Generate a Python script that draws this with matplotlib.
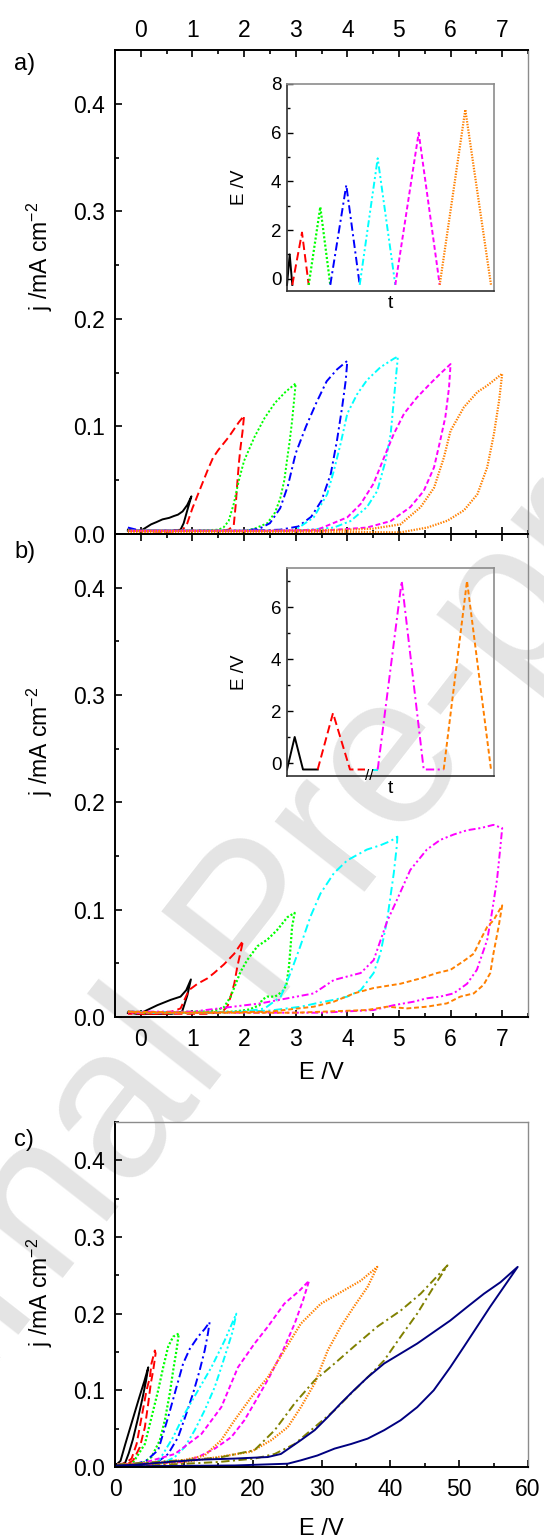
import matplotlib
matplotlib.use('Agg')
import matplotlib.pyplot as plt
from matplotlib.ticker import MultipleLocator, FormatStrFormatter

plt.rcParams['font.family'] = ['Liberation Sans', 'DejaVu Sans']
plt.rcParams['mathtext.fontset'] = 'custom'
plt.rcParams['mathtext.rm'] = 'Liberation Sans'
plt.rcParams['lines.scale_dashes'] = False

# ---------------- Panel a data (E /V, j /mA cm-2) ----------------
a_black_E = [-0.25, -0.1, 0, 0.1, 0.2, 0.3, 0.42, 0.55, 0.64, 0.72, 0.81, 0.9, 0.98,
             0.9, 0.83, 0.77, 0.6, 0.3, 0, -0.25]
a_black_j = [0.004, 0.003, 0.003, 0.006, 0.009, 0.011, 0.0136, 0.015, 0.0167, 0.018, 0.021, 0.027, 0.035,
             0.022, 0.010, 0.004, 0.003, 0.003, 0.003, 0.003]
a_red_E = [-0.25, 0.5, 0.8, 0.9, 1.0, 1.1, 1.2, 1.3, 1.4, 1.5, 1.6, 1.7, 1.8, 1.9, 2.0,
           1.97, 1.93, 1.9, 1.87, 1.84, 1.8, 1.7, 1.5, 1.0, 0.5, 0, -0.25]
a_red_j = [0.003, 0.002, 0.003, 0.010, 0.024, 0.036, 0.048, 0.060, 0.071, 0.078, 0.084, 0.090, 0.097, 0.104, 0.110,
           0.095, 0.080, 0.066, 0.048, 0.028, 0.008, 0.004, 0.003, 0.003, 0.003, 0.003, 0.003]
a_green_E = [-0.25, 1.0, 1.5, 1.6, 1.7, 1.8, 1.9, 2.0, 2.2, 2.4, 2.6, 2.8, 3.0,
             2.97, 2.93, 2.88, 2.83, 2.78, 2.7, 2.6, 2.45, 2.2, 2.0, 1.5, 0, -0.25]
a_green_j = [0.003, 0.003, 0.004, 0.006, 0.012, 0.028, 0.050, 0.068, 0.090, 0.108, 0.122, 0.132, 0.140,
             0.125, 0.105, 0.085, 0.068, 0.050, 0.033, 0.020, 0.010, 0.005, 0.003, 0.003, 0.003, 0.003]
a_blue_E = [-0.25, 0, 1.0, 2.0, 2.3, 2.5, 2.7, 2.85, 3.0, 3.2, 3.4, 3.6, 3.8, 4.0,
            3.97, 3.9, 3.8, 3.68, 3.5, 3.3, 3.05, 2.7, 2.0, 0, -0.25]
a_blue_j = [0.006, 0.003, 0.003, 0.003, 0.005, 0.010, 0.024, 0.045, 0.075, 0.100, 0.122, 0.142, 0.153, 0.161,
            0.143, 0.118, 0.087, 0.056, 0.031, 0.016, 0.007, 0.004, 0.003, 0.003, 0.003]
a_cyan_E = [-0.25, 1.0, 2.0, 2.97, 3.35, 3.61, 3.74, 3.87, 4.0, 4.19, 4.38, 4.64, 4.9, 4.98,
            4.96, 4.9, 4.84, 4.74, 4.58, 4.38, 4.06, 3.74, 3.0, 2.0, 0, -0.25]
a_cyan_j = [0.003, 0.003, 0.003, 0.003, 0.0155, 0.037, 0.059, 0.084, 0.112, 0.130, 0.143, 0.155, 0.163, 0.165,
            0.155, 0.124, 0.093, 0.068, 0.040, 0.025, 0.012, 0.006, 0.003, 0.003, 0.003, 0.003]
a_magenta_E = [-0.25, 1.0, 2.5, 3.42, 4.0, 4.26, 4.51, 4.71, 4.9, 5.1, 5.35, 5.61, 5.8, 6.0,
               5.97, 5.9, 5.8, 5.68, 5.48, 5.22, 4.84, 4.38, 3.5, 2.0, 0, -0.25]
a_magenta_j = [0.003, 0.003, 0.003, 0.004, 0.0155, 0.028, 0.047, 0.071, 0.093, 0.112, 0.127, 0.140, 0.149, 0.158,
               0.136, 0.109, 0.087, 0.062, 0.040, 0.025, 0.012, 0.006, 0.003, 0.003, 0.003, 0.003]
a_orange_E = [-0.25, 1.0, 2.5, 4.0, 4.5, 5.03, 5.42, 5.68, 5.87, 6.0, 6.26, 6.52, 6.71, 7.0,
              6.94, 6.84, 6.71, 6.52, 6.26, 5.94, 5.55, 5.03, 4.0, 2.0, 0, -0.25]
a_orange_j = [0.003, 0.003, 0.003, 0.004, 0.005, 0.009, 0.025, 0.043, 0.071, 0.096, 0.118, 0.132, 0.138, 0.149,
              0.124, 0.093, 0.062, 0.037, 0.022, 0.0124, 0.006, 0.0015, 0.002, 0.002, 0.002, 0.002]

# ---------------- Panel b data ----------------
b_black_E = [-0.25, 0, 0.06, 0.32, 0.58, 0.77, 0.88, 0.97, 0.9, 0.8, 0.6, 0.3, 0, -0.25]
b_black_j = [0.004, 0.003, 0.005, 0.011, 0.016, 0.019, 0.025, 0.035, 0.020, 0.005, 0.003, 0.003, 0.003, 0.004]
b_red_E = [-0.25, 0.3, 0.6, 0.77, 0.93, 1.1, 1.29, 1.42, 1.61, 1.81, 1.98,
           1.93, 1.87, 1.81, 1.74, 1.68, 1.58, 1.3, 1.0, 0.5, -0.25]
b_red_j = [0.004, 0.003, 0.005, 0.008, 0.025, 0.031, 0.036, 0.041, 0.049, 0.059, 0.071,
           0.060, 0.047, 0.031, 0.019, 0.010, 0.005, 0.003, 0.003, 0.003, 0.003]
b_green_E = [-0.25, 0.5, 1.0, 1.3, 1.5, 1.61, 1.74, 1.84, 1.93, 2.06, 2.26, 2.45, 2.64, 2.84, 2.98,
             2.93, 2.9, 2.87, 2.82, 2.75, 2.6, 2.45, 2.35, 2.3, 2.1, 1.8, 1.0, 0, -0.25]
b_green_j = [0.005, 0.004, 0.005, 0.005, 0.007, 0.009, 0.019, 0.031, 0.042, 0.053, 0.066, 0.072, 0.081, 0.093, 0.097,
             0.084, 0.065, 0.047, 0.030, 0.024, 0.019, 0.019, 0.016, 0.011, 0.007, 0.005, 0.004, 0.004, 0.005]
b_cyan_E = [-0.25, 1.0, 2.0, 2.4, 2.71, 2.9, 3.09, 3.29, 3.48, 3.74, 4.0, 4.19, 4.38, 4.64, 4.84, 4.97,
            4.96, 4.9, 4.77, 4.64, 4.51, 4.26, 4.0, 3.74, 3.42, 3.1, 2.5, 1.5, 0, -0.25]
b_cyan_j = [0.005, 0.004, 0.005, 0.008, 0.019, 0.041, 0.066, 0.094, 0.115, 0.134, 0.146, 0.151, 0.156, 0.160, 0.164, 0.168,
            0.160, 0.134, 0.090, 0.059, 0.041, 0.025, 0.019, 0.016, 0.013, 0.0096, 0.006, 0.004, 0.004, 0.005]
b_magenta_E = [-0.25, 1.0, 2.32, 2.84, 3.35, 3.74, 4.26, 4.51, 4.77, 4.96, 5.22, 5.54, 5.8, 6.06, 6.32, 6.58, 6.83, 7.0,
               6.96, 6.9, 6.8, 6.71, 6.51, 6.32, 6.06, 5.8, 5.54, 5.29, 4.9, 4.51, 3.5, 2.0, 0, -0.25]
b_magenta_j = [0.005, 0.005, 0.0127, 0.0174, 0.022, 0.0345, 0.041, 0.053, 0.089, 0.109, 0.137, 0.156, 0.165, 0.170, 0.174, 0.176, 0.179, 0.176,
               0.156, 0.128, 0.097, 0.072, 0.044, 0.031, 0.022, 0.019, 0.0174, 0.0143, 0.011, 0.0065, 0.004, 0.004, 0.004, 0.004]
b_orange_E = [-0.25, 1.0, 2.5, 3.35, 3.74, 4.13, 4.51, 5.03, 5.42, 5.74, 6.0, 6.25, 6.45, 6.58, 6.71, 6.83, 7.0,
              6.93, 6.83, 6.77, 6.64, 6.45, 6.19, 5.93, 5.54, 5.16, 4.77, 4.38, 3.0, 1.5, 0, -0.25]
b_orange_j = [0.005, 0.004, 0.005, 0.0096, 0.0143, 0.022, 0.027, 0.031, 0.036, 0.041, 0.044, 0.052, 0.059, 0.072, 0.084, 0.090, 0.104,
              0.084, 0.059, 0.041, 0.030, 0.022, 0.019, 0.0127, 0.0096, 0.008, 0.0096, 0.0065, 0.004, 0.004, 0.004, 0.005]

# ---------------- Panel c data ----------------
c_black_E = [0.2, 0.8, 1.5, 2.5, 3.5, 4.3, 4.83, 4.5, 4.0, 3.3, 2.6, 2.0, 1.5, 1.0, 0.2]
c_black_j = [0.003, 0.008, 0.030, 0.060, 0.090, 0.113, 0.130, 0.112, 0.090, 0.062, 0.036, 0.018, 0.006, 0.003, 0.003]
c_red_E = [0.3, 1.5, 2.41, 3.14, 3.86, 4.58, 5.07, 5.3, 5.79,
           5.9, 5.55, 5.2, 4.83, 4.34, 3.62, 2.65, 1.7, 0.3]
c_red_j = [0.003, 0.005, 0.011, 0.030, 0.065, 0.100, 0.117, 0.135, 0.152,
           0.148, 0.126, 0.109, 0.083, 0.052, 0.026, 0.0087, 0.003, 0.003]
c_green_E = [0.3, 2.5, 4.34, 5.31, 6.27, 7.0, 7.72, 8.45, 9.27,
             8.93, 8.45, 7.96, 7.24, 6.52, 5.31, 3.86, 1.5, 0.3]
c_green_j = [0.003, 0.004, 0.030, 0.065, 0.100, 0.130, 0.157, 0.170, 0.174,
             0.152, 0.126, 0.096, 0.061, 0.035, 0.013, 0.004, 0.003, 0.003]
c_blue_E = [0.3, 3.0, 4.5, 6.27, 7.72, 8.93, 9.9, 10.86, 12.07, 13.03, 13.75,
            13.5, 13.03, 12.3, 11.34, 10.38, 9.17, 7.72, 5.8, 2.5, 0.3]
c_blue_j = [0.003, 0.004, 0.008, 0.022, 0.065, 0.104, 0.135, 0.154, 0.170, 0.180, 0.189,
            0.174, 0.152, 0.126, 0.096, 0.070, 0.039, 0.017, 0.004, 0.003, 0.003]
c_cyan_E = [0.3, 3.0, 6.27, 8.45, 10.14, 12.07, 14.0, 15.93, 17.62,
            17.13, 16.4, 15.44, 14.48, 13.03, 11.58, 10.14, 8.69, 6.76, 3.0, 0.3]
c_cyan_j = [0.003, 0.004, 0.0065, 0.039, 0.070, 0.100, 0.130, 0.165, 0.200,
            0.178, 0.157, 0.130, 0.104, 0.074, 0.048, 0.026, 0.013, 0.004, 0.003, 0.003]
c_magenta_E = [0.3, 4.0, 8.69, 12.55, 15.44, 17.86, 20.27, 22.2, 24.6, 26.8, 28.2,
               27.3, 26.1, 24.4, 22.4, 20.75, 18.8, 16.9, 14.5, 12.07, 9.65, 4.0, 0.3]
c_magenta_j = [0.003, 0.005, 0.017, 0.043, 0.078, 0.130, 0.161, 0.183, 0.213, 0.230, 0.243,
               0.217, 0.187, 0.152, 0.117, 0.091, 0.061, 0.039, 0.024, 0.013, 0.0065, 0.003, 0.003]
c_orange_E = [0.3, 5.0, 10.0, 13.03, 15.44, 17.37, 19.79, 22.2, 24.6, 27.0, 29.9, 32.8, 35.7, 38.1,
              36.7, 34.7, 32.8, 30.9, 29.0, 27.0, 25.1, 22.7, 19.8, 15.0, 10.1, 4.0, 0.3]
c_orange_j = [0.003, 0.005, 0.009, 0.015, 0.035, 0.061, 0.091, 0.117, 0.152, 0.187, 0.213, 0.228, 0.243, 0.261,
              0.235, 0.209, 0.183, 0.152, 0.109, 0.078, 0.052, 0.035, 0.020, 0.013, 0.0065, 0.003, 0.003]
c_olive_E = [0.3, 5.0, 10.0, 15.0, 20.27, 23.2, 26.1, 29.0, 31.9, 34.7, 38.1, 41.5, 44.4, 48.3,
             46.3, 43.9, 41.5, 39.1, 36.7, 34.3, 31.9, 29.0, 26.1, 23.2, 20.3, 15.0, 5.3, 0.3]
c_olive_j = [0.003, 0.006, 0.009, 0.012, 0.022, 0.048, 0.083, 0.113, 0.135, 0.157, 0.183, 0.204, 0.226, 0.263,
             0.235, 0.200, 0.170, 0.139, 0.117, 0.096, 0.074, 0.052, 0.030, 0.017, 0.011, 0.0065, 0.002, 0.002]
c_navy_E = [0.3, 3.0, 7.72, 12.5, 17.4, 22.2, 24.1, 27.0, 29.0, 30.9, 32.8, 34.7, 36.7, 39.1, 41.5, 43.9,
            46.3, 48.7, 51.2, 53.6, 56.0, 58.5,
            56.5, 54.5, 52.6, 50.7, 48.7, 46.3, 43.9, 41.5, 39.1, 36.7, 34.3, 31.9, 29.4, 27.0, 25.1, 17.4, 2.9, 0.3]
c_navy_j = [0.002, 0.003, 0.0065, 0.0096, 0.011, 0.013, 0.017, 0.035, 0.048, 0.065, 0.083, 0.100, 0.117, 0.135, 0.148, 0.161,
            0.176, 0.191, 0.209, 0.226, 0.241, 0.261,
            0.235, 0.209, 0.183, 0.157, 0.130, 0.100, 0.078, 0.061, 0.048, 0.037, 0.030, 0.024, 0.015, 0.0087, 0.0043, 0.002, 0.001, 0.001]

# ---------------- Inset data (t arbitrary, E /V) ----------------
ia_black_t, ia_black_E = [0, 2.7, 5.3], [-0.25, 1.0, -0.25]
ia_red_t, ia_red_E = [5.3, 15, 21.7], [-0.25, 1.9, -0.25]
ia_green_t, ia_green_E = [21.7, 33.3, 43.3], [-0.25, 2.95, -0.25]
ia_blue_t, ia_blue_E = [43.3, 59.3, 72.7], [-0.25, 3.85, -0.25]
ia_cyan_t, ia_cyan_E = [72.7, 90.7, 108.3], [-0.25, 4.95, -0.25]
ia_magenta_t, ia_magenta_E = [108.3, 131.7, 152.7], [-0.25, 6.0, -0.25]
ia_orange_t, ia_orange_E = [152.7, 178.3, 204], [-0.25, 6.95, -0.25]

ib_black_t, ib_black_E = [0, 7.7, 16, 30.7], [-0.25, 1.0, -0.25, -0.25]
ib_red_t, ib_red_E = [30.7, 46, 63, 78], [-0.25, 1.92, -0.25, -0.25]
ib_cyan_t, ib_cyan_E = [85, 90.7], [-0.25, -0.25]
ib_magenta_t, ib_magenta_E = [90.7, 114.7, 136.7, 156.7], [-0.25, 7.0, -0.25, -0.25]
ib_orange_t, ib_orange_E = [156.7, 180, 204], [-0.25, 7.0, -0.25]

# ---------------- styles ----------------
COL = dict(black='black', red='#ff0000', green='#00ff00', blue='#0000ff', cyan='#00ffff',
           magenta='#ff00ff', orange='#ff8000', olive='#808000', navy='#000080')
SOLID = '-'
DASH = (0, (6, 3))
DOT = (0, (1.5, 1.5))
DASHDOT = (0, (6, 2.5, 1.5, 2.5))
DASHDOTDOT = (0, (5, 2, 1.5, 2, 1.5, 2))
SHORTDASH = (0, (3.5, 2))
SMALLDOT = (0, (1, 1))
LW = 1.4

fig = plt.figure(figsize=(5.44, 15.39), dpi=100)
H = 1539.0
def fy(px):
    return 1 - px / H
L, W = 115 / 544, 413 / 544

# watermark
fig.text(265 / 544, fy(930), 'Journal Pre-proof', rotation=52, fontsize=155, color='#e4e4e4',
         ha='center', va='center', zorder=-10, family='Liberation Sans')

axa = fig.add_axes([L, fy(534), W, (534 - 50) / H])
axb = fig.add_axes([L, fy(1017), W, (1017 - 534) / H])
axc = fig.add_axes([L, fy(1467), W, (1467 - 1122) / H])

def style_main(ax):
    ax.set_facecolor('none')
    ax.tick_params(which='both', direction='in', width=1.2, labelsize=16.5, right=False)
    ax.tick_params(which='major', length=5)
    ax.tick_params(which='minor', length=3)
    ax.tick_params(axis='y', pad=7)
    ax.tick_params(axis='x', pad=8)
    ax.yaxis.set_major_locator(MultipleLocator(0.1))
    ax.yaxis.set_minor_locator(MultipleLocator(0.05))
    ax.yaxis.set_major_formatter(FormatStrFormatter('%.1f'))
    ax.set_ylim(0, 0.45)
    for s in ['left', 'bottom']:
        ax.spines[s].set_color('black')
        ax.spines[s].set_linewidth(1.4)
    ax.spines['right'].set_color('#8c8c8c')
    ax.spines['right'].set_linewidth(1.0)
    ax.spines['top'].set_color('black')
    ax.spines['top'].set_linewidth(1.4)

for ax in (axa, axb):
    style_main(ax)
    ax.set_xlim(-0.5, 7.5)
    ax.xaxis.set_major_locator(MultipleLocator(1))
    ax.xaxis.set_minor_locator(MultipleLocator(0.5))
    ax.xaxis.set_major_formatter(FormatStrFormatter('%d'))

axa.tick_params(axis='x', which='both', top=True, labeltop=True, bottom=True, labelbottom=False)
axa.tick_params(axis='x', pad=6)
axb.tick_params(axis='x', which='both', top=True, labeltop=False, bottom=True, labelbottom=True)

style_main(axc)
axc.set_xlim(0, 60)
axc.xaxis.set_major_locator(MultipleLocator(10))
axc.xaxis.set_minor_locator(MultipleLocator(5))
axc.xaxis.set_major_formatter(FormatStrFormatter('%d'))
axc.tick_params(axis='x', which='both', top=False, bottom=True)
axc.spines['top'].set_color('#8c8c8c')
axc.spines['top'].set_linewidth(1.0)

# panel a curves
axa.plot(a_black_E, a_black_j, color=COL['black'], ls=SOLID, lw=LW)
axa.plot(a_red_E, a_red_j, color=COL['red'], ls=DASH, lw=LW)
axa.plot(a_green_E, a_green_j, color=COL['green'], ls=DOT, lw=LW)
axa.plot(a_blue_E, a_blue_j, color=COL['blue'], ls=DASHDOT, lw=LW)
axa.plot(a_cyan_E, a_cyan_j, color=COL['cyan'], ls=DASHDOTDOT, lw=LW)
axa.plot(a_magenta_E, a_magenta_j, color=COL['magenta'], ls=SHORTDASH, lw=LW)
axa.plot(a_orange_E, a_orange_j, color=COL['orange'], ls=SMALLDOT, lw=1.6)

# panel b curves
axb.plot(b_black_E, b_black_j, color=COL['black'], ls=SOLID, lw=LW)
axb.plot(b_red_E, b_red_j, color=COL['red'], ls=DASH, lw=LW)
axb.plot(b_green_E, b_green_j, color=COL['green'], ls=DOT, lw=1.6)
axb.plot(b_cyan_E, b_cyan_j, color=COL['cyan'], ls=DASHDOT, lw=LW)
axb.plot(b_magenta_E, b_magenta_j, color=COL['magenta'], ls=DASHDOTDOT, lw=LW)
axb.plot(b_orange_E, b_orange_j, color=COL['orange'], ls=SHORTDASH, lw=LW)

# panel c curves
axc.plot(c_black_E, c_black_j, color=COL['black'], ls=SOLID, lw=LW)
axc.plot(c_red_E, c_red_j, color=COL['red'], ls=DASH, lw=LW)
axc.plot(c_green_E, c_green_j, color=COL['green'], ls=DOT, lw=1.6)
axc.plot(c_blue_E, c_blue_j, color=COL['blue'], ls=DASHDOT, lw=LW)
axc.plot(c_cyan_E, c_cyan_j, color=COL['cyan'], ls=DASHDOTDOT, lw=LW)
axc.plot(c_magenta_E, c_magenta_j, color=COL['magenta'], ls=SHORTDASH, lw=LW)
axc.plot(c_orange_E, c_orange_j, color=COL['orange'], ls=SMALLDOT, lw=1.6)
axc.plot(c_olive_E, c_olive_j, color=COL['olive'], ls=DASHDOT, lw=LW)
axc.plot(c_navy_E, c_navy_j, color=COL['navy'], ls=SOLID, lw=LW)

ylab = r'j /mA cm$^{\mathregular{-2}}$'
for ax, yc in ((axa, 0.573), (axb, 0.571), (axc, 0.507)):
    ax.set_ylabel(ylab, fontsize=16.5)
    ax.yaxis.set_label_coords(-0.145, yc)

axb.set_xlabel('E /V', fontsize=17, labelpad=8)
axc.set_xlabel('E /V', fontsize=17, labelpad=12)

fig.text(14 / 544, fy(64), 'a)', fontsize=17, va='center', ha='left')
fig.text(14 / 544, fy(552), 'b)', fontsize=17, va='center', ha='left')
fig.text(14 / 544, fy(1140), 'c)', fontsize=17, va='center', ha='left')

# insets
ina = fig.add_axes([287 / 544, fy(291), 207 / 544, (291 - 84) / H])
inb = fig.add_axes([287 / 544, fy(776), 207 / 544, (776 - 568) / H])

def style_inset(ax, ytop, yticks):
    ax.set_facecolor('none')
    ax.set_xlim(0, 207)
    ax.set_ylim(-0.5, ytop)
    ax.set_xticks([])
    ax.set_yticks(yticks)
    ax.yaxis.set_minor_locator(MultipleLocator(1))
    ax.tick_params(axis='y', which='both', direction='in', width=1.0, labelsize=13.5, pad=4)
    ax.tick_params(axis='y', which='major', length=4)
    ax.tick_params(axis='y', which='minor', length=2.5)
    for s in ['left', 'bottom']:
        ax.spines[s].set_color('#303030')
        ax.spines[s].set_linewidth(1.2)
    for s in ['top', 'right']:
        ax.spines[s].set_color('#8c8c8c')
        ax.spines[s].set_linewidth(1.2)
    ax.set_xlabel('t', fontsize=14, labelpad=3)
    ax.set_ylabel('E /V', fontsize=13.5)
    ax.yaxis.set_label_coords(-0.19, 0.5)

style_inset(ina, 8, [0, 2, 4, 6, 8])
style_inset(inb, 7.5, [0, 2, 4, 6])

ina.plot(ia_black_t, ia_black_E, color=COL['black'], ls=SOLID, lw=LW, clip_on=False)
ina.plot(ia_red_t, ia_red_E, color=COL['red'], ls=DASH, lw=LW)
ina.plot(ia_green_t, ia_green_E, color=COL['green'], ls=DOT, lw=1.6)
ina.plot(ia_blue_t, ia_blue_E, color=COL['blue'], ls=DASHDOT, lw=LW)
ina.plot(ia_cyan_t, ia_cyan_E, color=COL['cyan'], ls=DASHDOTDOT, lw=LW)
ina.plot(ia_magenta_t, ia_magenta_E, color=COL['magenta'], ls=SHORTDASH, lw=LW)
ina.plot(ia_orange_t, ia_orange_E, color=COL['orange'], ls=SMALLDOT, lw=1.6)

inb.plot(ib_black_t, ib_black_E, color=COL['black'], ls=SOLID, lw=LW)
inb.plot(ib_red_t, ib_red_E, color=COL['red'], ls=DASH, lw=LW)
inb.plot(ib_cyan_t, ib_cyan_E, color=COL['cyan'], ls=DASHDOT, lw=LW)
inb.plot(ib_magenta_t, ib_magenta_E, color=COL['magenta'], ls=DASHDOT, lw=LW)
inb.plot(ib_orange_t, ib_orange_E, color=COL['orange'], ls=SHORTDASH, lw=LW)
inb.text(82.7, -0.5, '//', ha='center', va='center', fontsize=11, clip_on=False)

fig.savefig('out.png', dpi=100)
